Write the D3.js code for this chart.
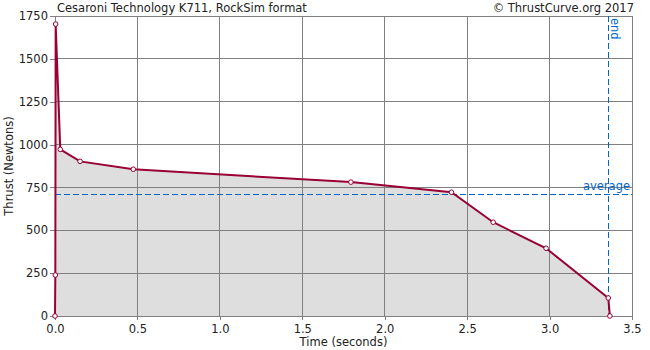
<!DOCTYPE html>
<html><head><meta charset="utf-8">
<script src="https://cdn.jsdelivr.net/npm/d3@7"></script>
<style>body{margin:0;background:#fff}svg{display:block;font-family:"DejaVu Sans",sans-serif}</style>
</head><body><svg id="c" width="650" height="350"></svg>
<script>
const times = [0, 0.002, 0.004, 0.032, 0.152, 0.475, 1.795, 2.405, 2.658, 2.979, 3.356, 3.366];
const thrusts = [0, 239, 1703, 972, 902, 856, 781, 722, 547, 395, 105, 0];
const xTicks = [0, 0.5, 1.0, 1.5, 2.0, 2.5, 3.0, 3.5];
const yTicks = [0, 250, 500, 750, 1000, 1250, 1500, 1750];
const averageThrust = 711;
const burnEnd = 3.356;
const title = "Cesaroni Technology K711, RockSim format";
const credit = "© ThrustCurve.org 2017";

const FS = "11.5px";
const svg = d3.select("#c");
const m = {l:55, r:632, t:16, b:316};
const x = d3.scaleLinear().domain([0,3.5]).range([m.l, m.r]);
const y = d3.scaleLinear().domain([0,1750]).range([m.b, m.t]);
const data = times.map((t,i)=>({t, f:thrusts[i]}));

// area
svg.append("path").datum(data)
  .attr("d", d3.area().x(d=>x(d.t)).y0(y(0)).y1(d=>y(d.f)))
  .attr("fill","#dedede");

// grid
svg.append("g").selectAll("line").data(xTicks).join("line")
  .attr("x1",d=>x(d)).attr("x2",d=>x(d)).attr("y1",m.t).attr("y2",m.b)
  .attr("stroke","#808080").attr("shape-rendering","crispEdges");
svg.append("g").selectAll("line").data(yTicks).join("line")
  .attr("x1",m.l).attr("x2",m.r).attr("y1",d=>y(d)).attr("y2",d=>y(d))
  .attr("stroke","#808080").attr("shape-rendering","crispEdges");

// axes
const xAxis = svg.append("g").attr("transform",`translate(0,${m.b})`)
  .call(d3.axisBottom(x).tickValues(xTicks).tickFormat(d3.format(".1f")).tickSize(4).tickSizeOuter(0));
const yAxis = svg.append("g").attr("transform",`translate(${m.l},0)`)
  .call(d3.axisLeft(y).tickValues(yTicks).tickFormat(d3.format("d")).tickSize(5).tickSizeOuter(0));
[xAxis,yAxis].forEach(a=>{
  a.select(".domain").attr("stroke","#808080").attr("shape-rendering","crispEdges");
  a.selectAll(".tick line").attr("stroke","#808080").attr("shape-rendering","crispEdges");
  a.selectAll("text").attr("fill","#222").style("font-size",FS).style("font-family","DejaVu Sans");
});
yAxis.selectAll("text").attr("x",-7);
xAxis.selectAll("text").attr("y",8.5);

// average line
svg.append("line").attr("x1",m.l).attr("x2",m.r).attr("y1",y(averageThrust)).attr("y2",y(averageThrust))
  .attr("stroke","#0066cc").attr("stroke-dasharray","6,3").attr("shape-rendering","crispEdges");
svg.append("text").attr("x",m.r-2).attr("y",y(averageThrust)-4).attr("text-anchor","end")
  .attr("fill","#0066cc").style("font-size",FS).text("average");
// end line
svg.append("line").attr("x1",x(burnEnd)).attr("x2",x(burnEnd)).attr("y1",m.t).attr("y2",m.b)
  .attr("stroke","#0066cc").attr("stroke-dasharray","6,3").attr("shape-rendering","crispEdges");
svg.append("text").attr("transform",`translate(${x(burnEnd)+3},${m.t+2}) rotate(90)`)
  .attr("fill","#0066cc").style("font-size",FS).text("end");

// curve
svg.append("path").datum(data)
  .attr("d", d3.line().x(d=>x(d.t)).y(d=>y(d.f)))
  .attr("fill","none").attr("stroke","#990033").attr("stroke-width",2);
svg.append("g").selectAll("circle").data(data).join("circle")
  .attr("cx",d=>x(d.t)).attr("cy",d=>y(d.f)).attr("r",2.3)
  .attr("fill","#fff").attr("stroke","#990033").attr("stroke-width",1);

// titles
svg.append("text").attr("x",57).attr("y",12).attr("fill","#222").style("font-size",FS).text(title);
svg.append("text").attr("x",634).attr("y",12).attr("text-anchor","end").attr("fill","#222").style("font-size",FS).text(credit);
svg.append("text").attr("x",(m.l+m.r)/2).attr("y",346).attr("text-anchor","middle").attr("fill","#222").style("font-size",FS).text("Time (seconds)");
svg.append("text").attr("transform",`translate(13,${(m.t+m.b)/2}) rotate(-90)`).attr("text-anchor","middle").attr("fill","#222").style("font-size",FS).text("Thrust (Newtons)");
</script></body></html>
